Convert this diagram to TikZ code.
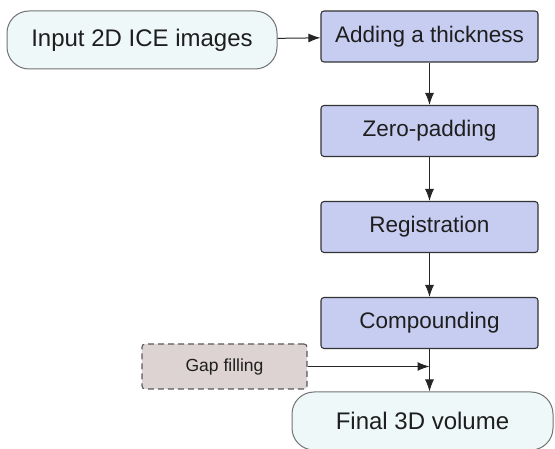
\documentclass[tikz,border=0pt]{standalone}
\usepackage{fontspec}
\setmainfont{Liberation Sans}
\usetikzlibrary{arrows.meta}
\definecolor{pillfill}{HTML}{EEF8F8}
\definecolor{stepfill}{HTML}{C7CDF1}
\definecolor{gapfill}{HTML}{DDD3D3}
\definecolor{textcol}{HTML}{1E1E1E}
\tikzset{
  pill/.style={draw=black!55, line width=1pt, fill=pillfill, rounded corners=22pt, minimum width=#1, minimum height=58pt, inner sep=0pt, text=textcol, font=\fontsize{24}{28}\selectfont},
  stepbox/.style={draw=black!80, line width=1.1pt, fill=stepfill, rounded corners=3pt, minimum width=217pt, minimum height=51pt, inner sep=0pt, text=textcol, font=\fontsize{22.5}{26}\selectfont},
  gapbox/.style={draw=black!65, line width=1.1pt, dashed, dash pattern=on 6pt off 4pt, fill=gapfill, rounded corners=3pt, minimum width=165pt, minimum height=45pt, inner sep=0pt, text=textcol, font=\fontsize{17.5}{21}\selectfont},
  flow/.style={draw=black!85, line width=1pt, -{Latex[length=12pt,width=9pt]}}
}
\begin{document}
\begin{tikzpicture}[x=1pt,y=-1pt]
\useasboundingbox (0,0) rectangle (555,449);

\node[pill=270pt] (input) at (142,40) {Input 2D ICE images};
\node[stepbox] (thick) at (429.5,36.5) {Adding a thickness};
\node[stepbox] (zeropad) at (429.5,131) {Zero-padding};
\node[stepbox] (regist) at (429.5,227) {Registration};
\node[stepbox] (compound) at (429.5,323) {Compounding};
\node[gapbox] (gapfill) at (224.5,366.5) {Gap filling};
\node[pill=261pt] (final) at (422.5,421) {Final 3D volume};

\coordinate (join) at (gapfill.east -| compound.south);

\draw[flow] (input) -- (thick);
\draw[flow] (thick) -- (zeropad);
\draw[flow] (zeropad) -- (regist);
\draw[flow] (regist) -- (compound);
\draw[flow] (compound.south) -- (compound.south |- final.north);
\draw[flow] (gapfill) -- (join);
\end{tikzpicture}
\end{document}
